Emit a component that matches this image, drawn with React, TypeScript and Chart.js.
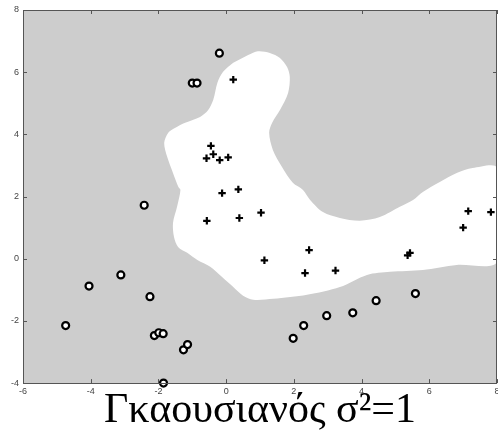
import React, { useEffect, useRef } from 'react';
import { Chart, registerables } from 'chart.js';

Chart.register(...registerables);

const circleX = [-0.2, -1.0, -0.86, -2.42, -3.11, -4.05, -4.74, -2.25, -2.12, -1.99, -1.86, -1.26, -1.14, -1.85, 1.98, 2.29, 2.97, 3.74, 4.43, 5.59];
const circleY = [6.61, 5.65, 5.65, 1.72, -0.52, -0.88, -2.15, -1.22, -2.47, -2.38, -2.41, -2.93, -2.76, -4.0, -2.56, -2.15, -1.83, -1.74, -1.35, -1.12];

const plusX = [0.21, -0.45, -0.38, -0.58, -0.19, 0.06, -0.12, 0.36, -0.57, 0.39, 1.03, 1.13, 2.45, 2.33, 3.23, 5.36, 5.43, 7.0, 7.15, 7.82];
const plusY = [5.76, 3.63, 3.36, 3.23, 3.17, 3.26, 2.11, 2.23, 1.22, 1.31, 1.48, -0.05, 0.28, -0.46, -0.38, 0.11, 0.19, 1.0, 1.53, 1.5];

// white (class "+") decision region outline
const regionX = [0.65, 0.94, 1.29, 1.59, 1.80, 1.88, 1.83, 1.59, 1.36, 1.27, 1.38, 1.65, 1.97, 2.27, 2.48, 2.86, 3.36, 3.95, 4.54, 5.13, 5.52, 5.81, 6.31, 6.81, 7.28, 8.0, 8.0, 6.81, 5.81, 4.84, 4.16, 3.36, 2.39, 1.39, 0.80, 0.50, 0.21, -0.12, -0.47, -0.85, -1.15, -1.42, -1.54, -1.57, -1.45, -1.35, -1.41, -1.57, -1.74, -1.83, -1.71, -1.50, -1.21, -0.77, -0.53, -0.38, -0.26, -0.09, 0.21];
const regionY = [6.55, 6.67, 6.62, 6.46, 6.17, 5.85, 5.33, 4.78, 4.37, 4.05, 3.50, 2.95, 2.44, 2.21, 1.89, 1.50, 1.31, 1.22, 1.34, 1.67, 1.89, 2.15, 2.47, 2.76, 2.92, 2.92, -0.10, -0.20, -0.36, -0.42, -0.52, -0.91, -1.16, -1.29, -1.32, -1.19, -0.91, -0.59, -0.26, -0.04, 0.19, 0.38, 0.70, 1.15, 1.67, 2.21, 2.31, 2.76, 3.27, 3.72, 4.05, 4.21, 4.37, 4.56, 4.78, 5.11, 5.65, 6.01, 6.30];

const xMin = -6, xMax = 8, yMin = -4, yMax = 8, tickStep = 2;
const titleText = 'Γκαουσιανός σ²=1';

const toPts = (xs: number[], ys: number[]) => xs.map((x, i) => ({ x, y: ys[i] }));

const zeroPad = () => ({ left: 0, top: 0, right: 0, bottom: 0 });

const framePlugin = {
  id: 'frame',
  beforeDraw(chart: any) {
    const { ctx, chartArea: a } = chart;
    ctx.save();
    ctx.fillStyle = '#cdcdcd';
    ctx.fillRect(a.left, a.top, a.right - a.left, a.bottom - a.top);
    ctx.restore();
  },
  afterDatasetsDraw(chart: any) {
    const { ctx, chartArea: a, scales } = chart;
    const len = 4;
    ctx.save();
    ctx.strokeStyle = '#555';
    ctx.lineWidth = 1;
    ctx.beginPath();
    ctx.rect(Math.round(a.left) + 0.5, Math.round(a.top) + 0.5, Math.round(a.right - a.left) - 1, Math.round(a.bottom - a.top));
    scales.x.ticks.forEach((t: any) => {
      const px = Math.round(scales.x.getPixelForValue(t.value)) + 0.5;
      ctx.moveTo(px, a.bottom); ctx.lineTo(px, a.bottom - len);
      ctx.moveTo(px, a.top); ctx.lineTo(px, a.top + len);
    });
    scales.y.ticks.forEach((t: any) => {
      const py = Math.round(scales.y.getPixelForValue(t.value)) + 0.5;
      ctx.moveTo(a.left, py); ctx.lineTo(a.left + len, py);
      ctx.moveTo(a.right, py); ctx.lineTo(a.right - len, py);
    });
    ctx.stroke();
    ctx.restore();
  },
};

export default function App() {
  const ref = useRef<HTMLCanvasElement>(null);
  useEffect(() => {
    if (!ref.current) return;
    const chart = new Chart(ref.current, {
      type: 'scatter',
      data: {
        datasets: [
          {
            label: 'o',
            data: toPts(circleX, circleY),
            pointStyle: 'circle',
            pointRadius: 3.5,
            pointBorderWidth: 2.2,
            pointBorderColor: '#000',
            pointBackgroundColor: '#fff',
            order: 1,
            clip: false,
          } as any,
          {
            label: '+',
            data: toPts(plusX, plusY),
            pointStyle: 'cross',
            pointRadius: 3.7,
            pointBorderWidth: 2.2,
            pointBorderColor: '#000',
            order: 1,
            clip: false,
          } as any,
          {
            label: 'region',
            data: toPts(regionX, regionY),
            showLine: true,
            fill: 'shape',
            backgroundColor: '#ffffff',
            borderWidth: 0,
            borderColor: 'rgba(0,0,0,0)',
            pointRadius: 0,
            tension: 0.3,
            order: 5,
          } as any,
        ],
      },
      options: {
        responsive: false,
        animation: false,
        layout: { autoPadding: false, padding: { top: 10, right: 1, left: 0, bottom: 0 } },
        plugins: {
          legend: { display: false },
          tooltip: { enabled: false },
          title: {
            display: true,
            fullSize: false,
            text: titleText,
            position: 'bottom',
            color: '#000',
            font: { family: '"Liberation Serif", "Times New Roman", serif', size: 42, weight: 'normal', lineHeight: 0.7 },
            padding: { top: 0.5, bottom: 11 },
          },
        },
        scales: {
          x: {
            type: 'linear',
            min: xMin,
            max: xMax,
            grid: { display: false, drawTicks: false },
            border: { display: false },
            ticks: { stepSize: tickStep, padding: 3, color: '#444', font: { family: '"Liberation Sans", Arial, sans-serif', size: 9 } },
            afterFit: (s: any) => {
              s.height = 13;
              s.paddingLeft = 0; s.paddingRight = 0;
              s.getPadding = zeroPad;
            },
          },
          y: {
            type: 'linear',
            min: yMin,
            max: yMax,
            grid: { display: false, drawTicks: false },
            border: { display: false },
            ticks: { stepSize: tickStep, padding: 4, color: '#444', font: { family: '"Liberation Sans", Arial, sans-serif', size: 9 } },
            afterFit: (s: any) => {
              s.width = 23;
              s.paddingTop = 0; s.paddingBottom = 0;
              s.getPadding = zeroPad;
            },
          },
        },
      },
      plugins: [framePlugin],
    });
    return () => chart.destroy();
  }, []);
  return (
    <div style={{ position: 'absolute', left: 0, top: 0, width: 498, height: 437, overflow: 'hidden', background: '#fff' }}>
      <canvas ref={ref} width={498} height={437} style={{ display: 'block' }} />
    </div>
  );
}
